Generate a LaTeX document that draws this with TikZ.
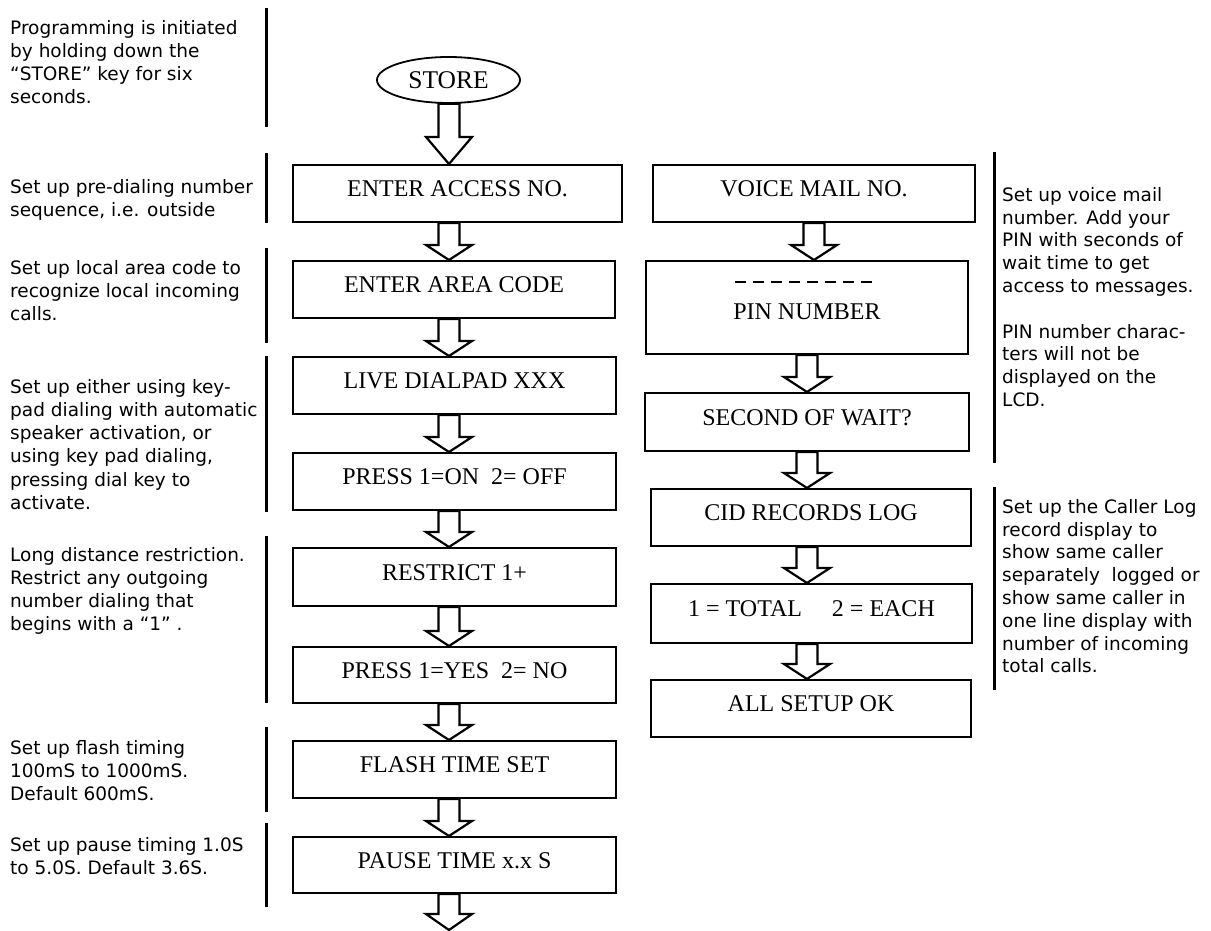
\documentclass[tikz,border=0pt]{standalone}
\usepackage{fontspec}
\setmainfont{Liberation Serif}
\newfontfamily\notefont{DejaVu Sans}
\usetikzlibrary{calc,shapes.geometric}
\tikzset{
  box/.style={draw, line width=2pt, rectangle, inner sep=0pt,
    font=\fontsize{24}{28}\selectfont, text height=16pt, text depth=10pt},
  note/.style={anchor=north west, inner sep=0pt, align=left,
    font=\notefont\fontsize{18.5}{23.2}\selectfont},
  rnote/.style={note, font=\notefont\fontsize{18.5}{22.8}\selectfont},
  sidebar/.style={line width=3pt},
  blockarr/.style={draw, line width=2.2pt, fill=white, line join=miter},
}
\newcommand\barrow[4]{%
  \draw[blockarr] let \p1=(#1), \p2=(#2) in
    (#3pt-10.5pt,\y1) -- (#3pt-10.5pt,\y2+#4pt) -- (#3pt-23pt,\y2+#4pt)
    -- (#3pt,\y2) -- (#3pt+23pt,\y2+#4pt) -- (#3pt+10.5pt,\y2+#4pt)
    -- (#3pt+10.5pt,\y1) -- cycle;}
\begin{document}
\begin{tikzpicture}[x=1pt,y=-1pt]
\useasboundingbox (0,0) rectangle (1211,931);
\fill[white] (0,0) rectangle (1211,931);

% side bars
\draw[sidebar] (266,8) -- (266,127);
\draw[sidebar] (266,153) -- (266,223);
\draw[sidebar] (266,248) -- (266,343);
\draw[sidebar] (266,356) -- (266,512);
\draw[sidebar] (266,536) -- (266,703);
\draw[sidebar] (266,727) -- (266,812);
\draw[sidebar] (266,823) -- (266,907);
\draw[sidebar] (994,152) -- (994,463);
\draw[sidebar] (994,487) -- (994,690);

% left notes
\node[note] (n1) at (10,18) {\rule{0pt}{16pt}Programming is initiated\\by holding down the\\“STORE” key for six\\seconds.};
\node[note] (n2) at (10,177) {\rule{0pt}{16pt}Set up pre-dialing number\\sequence, i.e. outside};
\node[note] (n3) at (10,258) {\rule{0pt}{16pt}Set up local area code to\\recognize local incoming\\calls.};
\node[note] (n4) at (10,377) {\rule{0pt}{16pt}Set up either using key-\\pad dialing with automatic\\speaker activation, or\\using key pad dialing,\\pressing dial key to\\activate.};
\node[note] (n5) at (10,545) {\rule{0pt}{16pt}Long distance restriction.\\Restrict any outgoing\\number dialing that\\begins with a “1” .};
\node[note] (n6) at (10,738) {\rule{0pt}{16pt}Set up flash timing\\100mS to 1000mS.\\Default 600mS.};
\node[note] (n7) at (10,835) {\rule{0pt}{16pt}Set up pause timing 1.0S\\to 5.0S. Default 3.6S.};

% right notes
\node[rnote] (r1) at (1002,185) {\rule{0pt}{16pt}Set up voice mail\\number. Add your\\PIN with seconds of\\wait time to get\\access to messages.\\[22.8pt]PIN number charac-\\ters will not be\\displayed on the\\LCD.};
\node[rnote] (r2) at (1002,497) {\rule{0pt}{16pt}Set up the Caller Log\\record display to\\show same caller\\separately\ \ logged or\\show same caller in\\one line display with\\number of incoming\\total calls.};

% start
\node[draw, ellipse, line width=1.8pt, inner sep=0pt, minimum width=143pt, minimum height=46pt,
      font=\fontsize{25.5}{28}\selectfont] (store) at (448.5,80) {STORE};

% left column
\node[box, minimum width=329pt, minimum height=57pt] (acc) at (457.5,193.5) {ENTER ACCESS NO.};
\node[box, minimum width=322pt, minimum height=57pt] (area) at (454,289.5) {ENTER AREA CODE};
\node[box, minimum width=323pt, minimum height=57pt] (live) at (454.5,385.5) {LIVE DIALPAD XXX};
\node[box, minimum width=323pt, minimum height=57pt] (on) at (454.5,481.5) {PRESS 1=ON\ \ 2= OFF};
\node[box, minimum width=323pt, minimum height=58pt] (restr) at (454.5,577) {RESTRICT 1+};
\node[box, minimum width=323pt, minimum height=56pt] (yes) at (454.5,675) {PRESS 1=YES\ \ 2= NO};
\node[box, minimum width=323pt, minimum height=57pt] (flash) at (454.5,769.5) {FLASH TIME SET};
\node[box, minimum width=323pt, minimum height=56pt] (pause) at (454.5,865) {PAUSE TIME x.x S};
\coordinate (cont) at (449,930);

% right column
\node[box, minimum width=322pt, minimum height=57pt] (vm) at (814,193.5) {VOICE MAIL NO.};
\node[draw, line width=2pt, rectangle, minimum width=322pt, minimum height=93pt] (pin) at (807,307.5) {};
\draw[line width=2.8pt, dash pattern=on 10.5pt off 7.5pt] ($(pin.north)+(-72,22)$) -- ($(pin.north)+(66,22)$);
\node[anchor=base, inner sep=0pt, font=\fontsize{24}{28}\selectfont] (pintext) at ($(pin.north)+(0,59)$) {PIN NUMBER};
\node[box, minimum width=324pt, minimum height=58pt] (sec) at (807,422) {SECOND OF WAIT?};
\node[box, minimum width=320pt, minimum height=57pt] (cid) at (811,517.5) {CID RECORDS LOG};
\node[box, minimum width=321pt, minimum height=59pt] (tot) at (811.5,613.5) {1 = TOTAL\hspace{30pt}2 = EACH};
\node[box, minimum width=320pt, minimum height=57pt] (ok) at (811,708.5) {ALL SETUP OK};

% block arrows
\barrow{store.south}{acc.north}{449}{27}
\barrow{acc.south}{area.north}{449}{15}
\barrow{area.south}{live.north}{449}{15}
\barrow{live.south}{on.north}{449}{15}
\barrow{on.south}{restr.north}{449}{15}
\barrow{restr.south}{yes.north}{449}{15}
\barrow{yes.south}{flash.north}{449}{15}
\barrow{flash.south}{pause.north}{449}{15}
\barrow{pause.south}{cont}{449}{16}
\barrow{vm.south}{pin.north}{814}{15}
\barrow{pin.south}{sec.north}{807}{15}
\barrow{sec.south}{cid.north}{807}{15}
\barrow{cid.south}{tot.north}{807}{15}
\barrow{tot.south}{ok.north}{807}{15}
\end{tikzpicture}
\end{document}
